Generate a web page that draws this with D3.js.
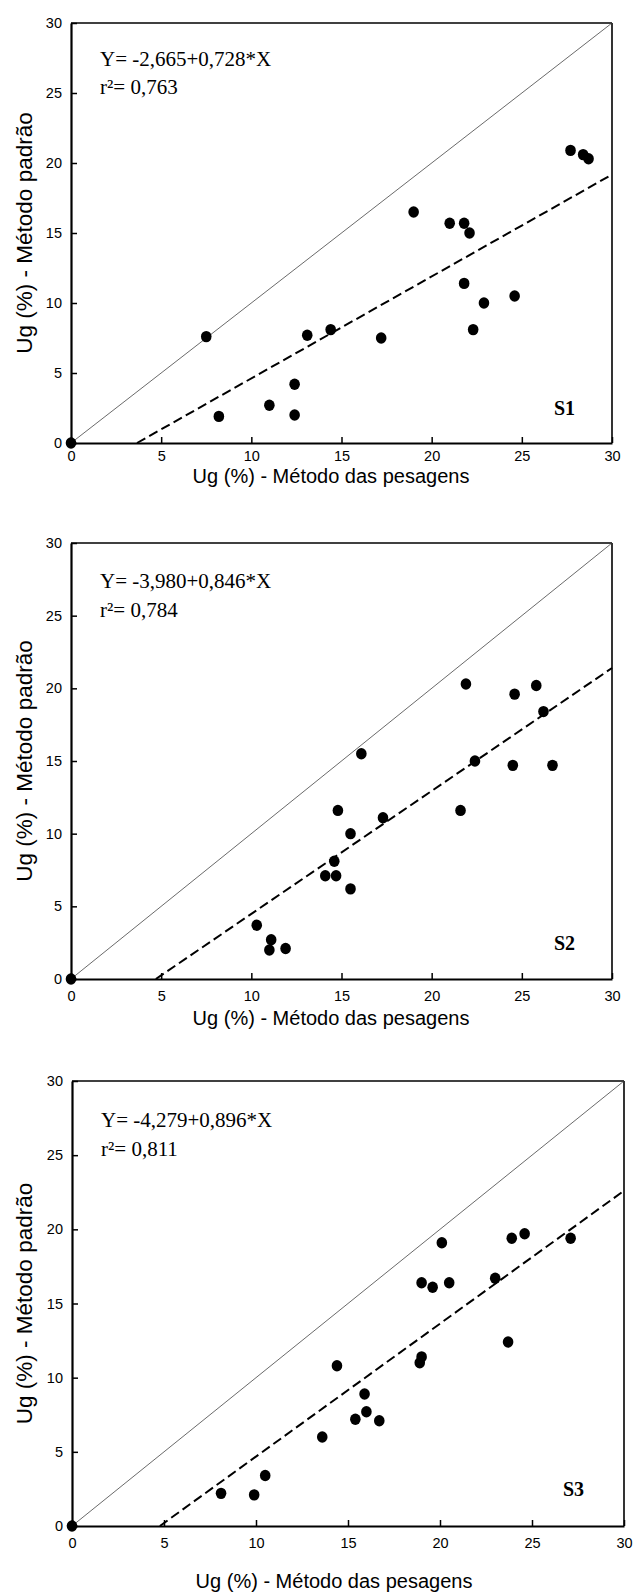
<!DOCTYPE html>
<html>
<head>
<meta charset="utf-8">
<script src="https://cdn.jsdelivr.net/npm/d3@7"></script>
<style>
  body { margin: 0; background: #fff; }
  svg { display: block; }
</style>
</head>
<body>
<svg id="chart" width="635" height="1594"></svg>
<script>
// ticks shared by both axes
let tickValues = [0, 5, 10, 15, 20, 25, 30];
let axisDomain = [0, 30];

// S1 points (x = weighing method, y = standard method)
let xS1 = [0, 7.5, 8.2, 11.0, 12.4, 12.4, 13.1, 14.4, 17.2, 19.0, 21.0, 21.8, 22.1, 21.8, 22.9, 22.3, 24.6, 27.7, 28.4, 28.7];
let yS1 = [0, 7.6, 1.9, 2.7, 4.2, 2.0, 7.7, 8.1, 7.5, 16.5, 15.7, 15.7, 15.0, 11.4, 10.0, 8.1, 10.5, 20.9, 20.6, 20.3];

// S2 points
let xS2 = [0, 10.3, 11.1, 11.0, 11.9, 16.1, 14.8, 17.3, 15.5, 14.6, 14.1, 14.7, 15.5, 21.6, 22.4, 24.5, 26.7, 21.9, 24.6, 25.8, 26.2];
let yS2 = [0, 3.7, 2.7, 2.0, 2.1, 15.5, 11.6, 11.1, 10.0, 8.1, 7.1, 7.1, 6.2, 11.6, 15.0, 14.7, 14.7, 20.3, 19.6, 20.2, 18.4];

// S3 points
let xS3 = [0, 8.1, 9.9, 10.5, 13.6, 14.4, 15.4, 15.9, 16.0, 16.7, 18.9, 19.0, 23.7, 19.0, 19.6, 20.1, 20.5, 23.0, 23.9, 24.6, 27.1];
let yS3 = [0, 2.2, 2.1, 3.4, 6.0, 10.8, 7.2, 8.9, 7.7, 7.1, 11.0, 11.4, 12.4, 16.4, 16.1, 19.1, 16.4, 16.7, 19.4, 19.7, 19.4];

// regression coefficients
let intercepts = [-2.665, -3.980, -4.279];
let slopes = [0.728, 0.846, 0.896];
let eqLabels = ["Y= -2,665+0,728*X", "Y= -3,980+0,846*X", "Y= -4,279+0,896*X"];
let r2Labels = ["r\u00b2= 0,763", "r\u00b2= 0,784", "r\u00b2= 0,811"];
let panelNames = ["S1", "S2", "S3"];

let xLabel = "Ug (%) - Método das pesagens";
let yLabel = "Ug (%) - Método padrão";

let panels = [
    {left: 71, right: 612, top: 23, bottom: 443, xs: xS1, ys: yS1, tickPad: 8, xLabelX: 331, xLabelY: 483, nameOff: 58},
    {left: 71, right: 612, top: 543, bottom: 979, xs: xS2, ys: yS2, tickPad: 12, xLabelX: 331, xLabelY: 1025, nameOff: 58},
    {left: 72, right: 624, top: 1081, bottom: 1526, xs: xS3, ys: yS3, tickPad: 12, xLabelX: 334, xLabelY: 1588, nameOff: 61}
];

let svg = d3.select("#chart");

function drawPanel(p, i) {
    let xScale = d3.scaleLinear().domain(axisDomain).range([p.left, p.right]);
    let yScale = d3.scaleLinear().domain(axisDomain).range([p.bottom, p.top]);
    let g = svg.append("g");

    // top and right frame
    g.append("line")
        .attr("x1", p.left).attr("x2", p.right)
        .attr("y1", p.top).attr("y2", p.top)
        .attr("stroke", "#000").attr("stroke-width", 1.6);
    g.append("line")
        .attr("x1", p.right).attr("x2", p.right)
        .attr("y1", p.top).attr("y2", p.bottom)
        .attr("stroke", "#000").attr("stroke-width", 1.6);

    // 1:1 line
    g.append("line")
        .attr("x1", xScale(0)).attr("y1", yScale(0))
        .attr("x2", xScale(30)).attr("y2", yScale(30))
        .attr("stroke", "#444").attr("stroke-width", 0.8);

    // regression line, from x-intercept to 30
    let a = intercepts[i], b = slopes[i];
    g.append("line")
        .attr("x1", xScale(-a / b)).attr("y1", yScale(0))
        .attr("x2", xScale(30)).attr("y2", yScale(a + b * 30))
        .attr("stroke", "#000").attr("stroke-width", 2)
        .style("stroke-dasharray", "9.5 4.5");

    // axes
    let xAxis = g.append("g")
        .attr("transform", "translate(0," + p.bottom + ")")
        .call(d3.axisBottom(xScale).tickValues(tickValues).tickSizeInner(-6).tickSizeOuter(0).tickPadding(p.tickPad));
    let yAxis = g.append("g")
        .attr("transform", "translate(" + p.left + ",0)")
        .call(d3.axisLeft(yScale).tickValues(tickValues).tickSizeInner(-6).tickSizeOuter(0).tickPadding(9));

    [xAxis, yAxis].forEach(function(ax) {
        ax.select(".domain").attr("stroke-width", 2.2);
        ax.selectAll(".tick line").attr("stroke-width", 1.5);
        ax.selectAll("text")
            .style("font-family", "Arial, 'Liberation Sans', sans-serif")
            .style("font-size", "14.5px")
            .attr("fill", "#000");
    });

    // points
    g.selectAll(".dot")
        .data(p.xs)
        .enter()
        .append("ellipse")
        .attr("cx", function(d) { return xScale(d); })
        .attr("cy", function(d, j) { return yScale(p.ys[j]); })
        .attr("rx", 5.3)
        .attr("ry", 5.7)
        .attr("fill", "#000");

    // equation text
    g.append("text")
        .attr("x", p.left + 29).attr("y", yScale(26.9))
        .style("font-family", "'Times New Roman', 'Liberation Serif', serif")
        .style("font-size", "21px")
        .text(eqLabels[i]);
    g.append("text")
        .attr("x", p.left + 29).attr("y", yScale(24.93))
        .style("font-family", "'Times New Roman', 'Liberation Serif', serif")
        .style("font-size", "21px")
        .text(r2Labels[i]);

    // panel name
    g.append("text")
        .attr("x", p.right - p.nameOff).attr("y", yScale(2))
        .style("font-family", "'Times New Roman', 'Liberation Serif', serif")
        .style("font-size", "20px")
        .style("font-weight", "bold")
        .text(panelNames[i]);

    // axis titles
    g.append("text")
        .attr("x", p.xLabelX)
        .attr("y", p.xLabelY)
        .attr("text-anchor", "middle")
        .style("font-family", "Arial, 'Liberation Sans', sans-serif")
        .style("font-size", "20px")
        .text(xLabel);
    g.append("text")
        .attr("transform", "translate(32," + ((p.top + p.bottom) / 2) + ") rotate(-90)")
        .attr("text-anchor", "middle")
        .style("font-family", "Arial, 'Liberation Sans', sans-serif")
        .style("font-size", "22.5px")
        .text(yLabel);
}

panels.forEach(drawPanel);
</script>
</body>
</html>
